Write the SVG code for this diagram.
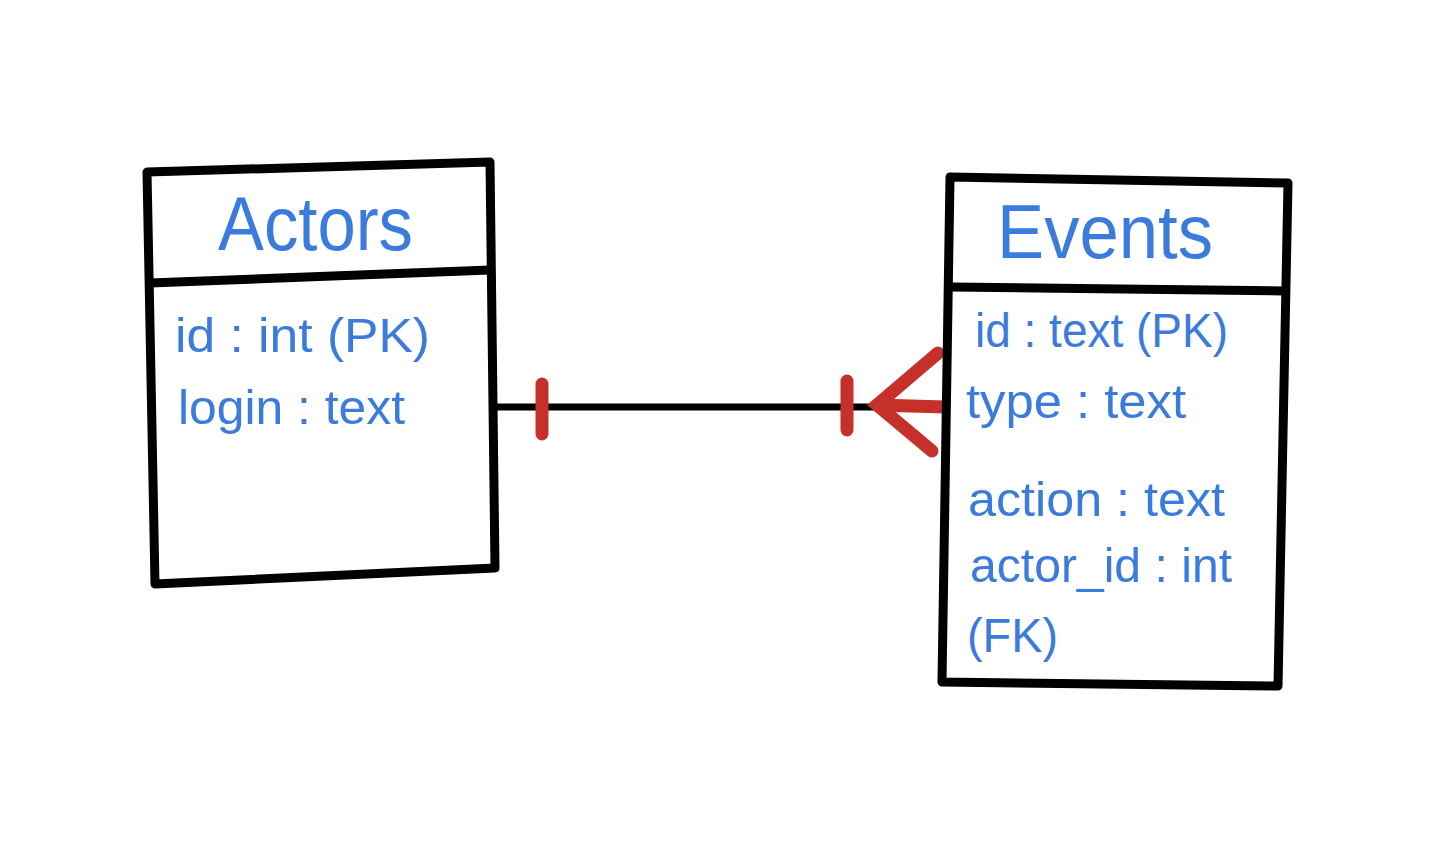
<svg xmlns="http://www.w3.org/2000/svg" width="1455" height="853" viewBox="0 0 1455 853">
<style>
.box{fill:#fff;stroke:#000;stroke-width:9;stroke-linejoin:round;stroke-linecap:round}
.div{fill:none;stroke:#000;stroke-width:9;stroke-linecap:round}
.title{font-family:"Liberation Sans",Arial,sans-serif;font-size:76px;fill:#3a7bdc}
.attr{font-family:"Liberation Sans",Arial,sans-serif;font-size:48px;fill:#3a7bdc}
.line{stroke:#000;stroke-width:7;fill:none}
.red{stroke:#c5302a;stroke-width:13;stroke-linecap:round;fill:none}
</style>
<rect width="1455" height="853" fill="#fff"/>
<g id="connectors">
<line class="line" x1="495" y1="407" x2="948" y2="407"/>
<line class="red" x1="542" y1="384" x2="542" y2="434"/>
<line class="red" x1="847" y1="381" x2="847" y2="430"/>
<path class="red" d="M938 353 L877 405 L932 451 M877 405 L945 407"/>
</g>
<g id="actors">
<path class="box" d="M147 172 L490 162 L495 568 L155 584 Z"/>
<path class="div" d="M150 283 L490 270"/>
<text class="title" x="218" y="250" textLength="195" lengthAdjust="spacingAndGlyphs">Actors</text>
<text class="attr" x="175" y="352" textLength="255" lengthAdjust="spacingAndGlyphs">id : int (PK)</text>
<text class="attr" x="178" y="424" textLength="227" lengthAdjust="spacingAndGlyphs">login : text</text>
</g>
<g id="events">
<path class="box" d="M950 177 L1288 183 L1278 686 L942 682 Z"/>
<path class="div" d="M952 287 L1284 291"/>
<text class="title" x="997" y="258" textLength="216" lengthAdjust="spacingAndGlyphs">Events</text>
<text class="attr" x="975" y="347" textLength="253" lengthAdjust="spacingAndGlyphs">id : text (PK)</text>
<text class="attr" x="966" y="418" textLength="220" lengthAdjust="spacingAndGlyphs">type : text</text>
<text class="attr" x="968" y="516" textLength="257" lengthAdjust="spacingAndGlyphs">action : text</text>
<text class="attr" x="970" y="582" textLength="262" lengthAdjust="spacingAndGlyphs">actor_id : int</text>
<text class="attr" x="967" y="652" textLength="91" lengthAdjust="spacingAndGlyphs">(FK)</text>
</g>
</svg>
